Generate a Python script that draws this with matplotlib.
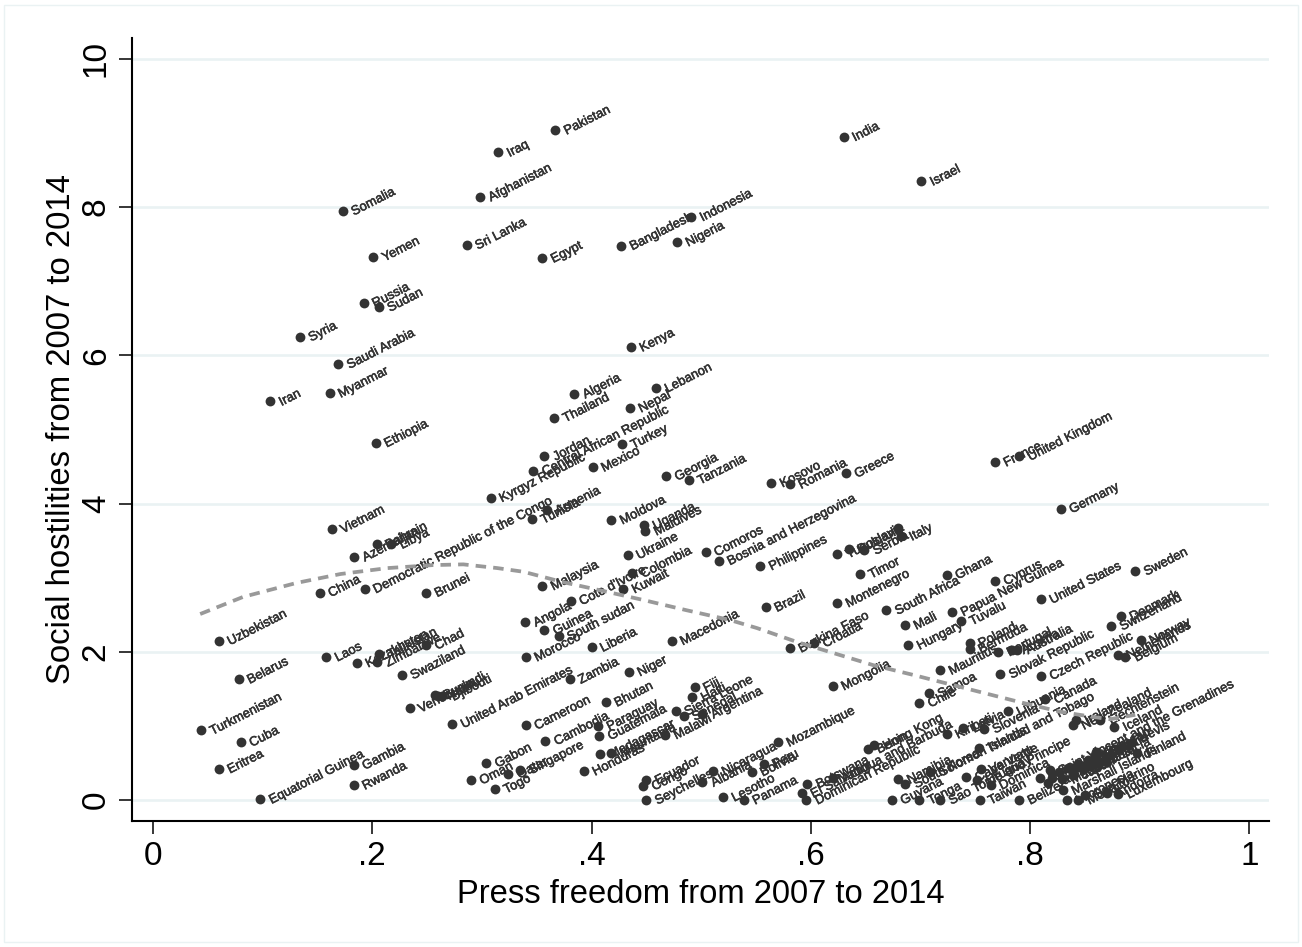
import matplotlib
matplotlib.use("Agg")
import matplotlib.pyplot as plt
import matplotlib.patheffects as pe
from matplotlib.patches import Rectangle

plt.rcParams['font.family'] = ['Liberation Sans', 'DejaVu Sans']

# upper part of the chart
names_high = ["Iraq", "Pakistan", "India", "Israel", "Somalia", "Afghanistan", "Indonesia", "Bangladesh",
              "Sri Lanka", "Egypt", "Nigeria", "Yemen", "Russia", "Sudan", "Syria", "Saudi Arabia", "Kenya",
              "Iran", "Myanmar", "Algeria", "Lebanon", "Nepal", "Thailand", "Ethiopia", "Jordan",
              "Central African Republic", "Turkey", "Mexico", "Georgia", "Tanzania", "France", "United Kingdom",
              "Kosovo", "Romania", "Greece", "Germany", "Kyrgyz Republic", "Armenia", "Tunisia", "Moldova",
              "Uganda", "Maldives", "Vietnam", "Azerbaijan", "Bahrain", "Libya"]
press_high = [.315, .367, .630, .701, .173, .298, .491, .427,
              .286, .355, .478, .201, .192, .206, .134, .169, .436,
              .107, .161, .384, .459, .435, .366, .203, .357,
              .347, .428, .401, .468, .489, .768, .790,
              .564, .581, .632, .828, .308, .359, .346, .418,
              .448, .449, .163, .183, .204, .217]
social_high = [8.74, 9.04, 8.95, 8.35, 7.95, 8.14, 7.87, 7.48,
               7.49, 7.31, 7.53, 7.33, 6.71, 6.65, 6.25, 5.88, 6.11,
               5.38, 5.49, 5.48, 5.56, 5.29, 5.16, 4.82, 4.64,
               4.44, 4.80, 4.49, 4.37, 4.32, 4.56, 4.64,
               4.28, 4.26, 4.41, 3.93, 4.08, 3.91, 3.79, 3.78,
               3.71, 3.63, 3.66, 3.28, 3.45, 3.45]

# middle band, social hostilities around 2 to 3.5
names_mid = ["Comoros", "Bosnia and Herzegovina", "Philippines", "Ukraine", "Colombia", "Cote d'Ivoire", "Kuwait",
             "Malaysia", "Angola", "Guinea", "South sudan", "Morocco", "Liberia", "Macedonia", "Brazil",
             "Burkina Faso", "Croatia", "Yugoslavia", "Bulgaria", "Serbia", "", "Italy", "Timor", "Montenegro",
             "Tuvalu", "Papua New Guinea", "Ghana", "South Africa", "Mali", "Hungary", "Cyprus", "United States",
             "Sweden", "Denmark", "Switzerland", "Norway", "Netherlands", "Belgium", "Poland", "Bermuda",
             "Portugal", "Austria", "Australia", "Slovak Republic", "Czech Republic", "China",
             "Democratic Republic of the Congo", "Brunei", "Uzbekistan"]
press_mid = [.504, .516, .554, .433, .437, .381, .429,
             .355, .339, .357, .370, .340, .400, .473, .559,
             .581, .603, .624, .635, .649, .680, .682, .645, .624,
             .737, .729, .724, .669, .686, .689, .768, .810,
             .896, .883, .874, .901, .880, .887, .745, .745,
             .771, .784, .788, .773, .810, .152,
             .193, .249, .060]
social_mid = [3.35, 3.23, 3.16, 3.31, 3.06, 2.69, 2.85,
              2.89, 2.40, 2.29, 2.21, 1.93, 2.06, 2.15, 2.60,
              2.05, 2.12, 3.32, 3.39, 3.37, 3.67, 3.56, 3.05, 2.66,
              2.42, 2.54, 3.04, 2.56, 2.36, 2.09, 2.96, 2.71,
              3.09, 2.48, 2.35, 2.16, 1.96, 1.93, 2.12, 2.04,
              2.00, 2.03, 2.03, 1.70, 1.68, 2.80,
              2.85, 2.80, 2.15]

# lower left
names_left = ["Laos", "Kazakhstan", "Zimbabwe", "Tajikistan", "Chad", "Swaziland", "Venezuela", "Burundi", "Nauru",
              "Djibouti", "Turkmenistan", "Belarus", "Cuba", "Eritrea", "Equatorial Guinea", "Gambia", "Rwanda",
              "United Arab Emirates", "Gabon", "Oman", "Togo", "Qatar", "Singapore", "Cameroon", "Cambodia",
              "Zambia", "Niger", "Bhutan", "Paraguay", "Guatemala", "Honduras", "Madagascar", "Mauritania",
              "Malawi", "Sierra Leone", "Senegal", "Argentina", "Fiji", "Haiti", "Mozambique", "Mongolia"]
press_left = [.158, .186, .204, .206, .249, .227, .234, .257, .260,
              .264, .044, .078, .080, .060, .098, .183, .183,
              .273, .304, .290, .312, .324, .335, .340, .358,
              .380, .434, .413, .406, .407, .393, .408, .418,
              .467, .477, .484, .501, .494, .492, .570, .620]
social_left = [1.93, 1.85, 1.86, 1.97, 2.09, 1.69, 1.24, 1.42, 1.41,
               1.40, .94, 1.63, .78, .42, .01, .47, .20,
               1.03, .50, .27, .15, .35, .41, 1.01, .80,
               1.63, 1.73, 1.32, 1.00, .87, .39, .62, .64,
               .88, 1.20, 1.13, 1.16, 1.52, 1.39, .78, 1.54]

# lower right
names_low = ["Ecuador", "Congo", "Seychelles", "Nicaragua", "Albania", "Lesotho", "Panama", "Peru", "Bolivia",
             "Botswana", "El Salvador", "Dominican Republic", "Antigua and Barbuda", "Hong Kong", "Benin",
             "Namibia", "South Korea", "Guyana", "Tonga", "Sao Tome and Principe", "Chile", "Samoa", "Mauritius",
             "Kiribati", "Latvia", "Slovenia", "Lithuania", "Canada", "Trinidad and Tobago", "Solomon Islands",
             "New Zealand", "Ireland", "Liechtenstein", "Iceland", "Saint Vincent and the Grenadines",
             "Saint Kitts and Nevis", "Finland", "Luxembourg", "Andorra", "San Marino", "Marshall Islands",
             "Monaco", "Micronesia", "Taiwan", "Belize", "Dominica", "Vanuatu", "Uruguay", "Cape Verde",
             "Jamaica", "Barbados", "Estonia", "Costa Rica", "Japan", "Grenada", "Bahamas", "Saint Lucia",
             "Malta", "Palau", "Macao", "Suriname", "Aruba", "Curacao"]
press_low = [.450, .447, .450, .511, .501, .520, .539, .557, .546,
             .597, .592, .596, .620, .658, .652,
             .680, .686, .674, .699, .718, .699, .708, .718,
             .724, .739, .758, .780, .814, .753, .709,
             .839, .842, .864, .877, .818,
             .820, .898, .880, .870, .850, .830,
             .844, .834, .754, .790, .764, .755, .752, .742,
             .816, .826, .850, .835, .839, .841, .844, .848,
             .859, .809, .829, .853, .855, .860]
social_low = [.27, .19, .00, .39, .24, .04, .00, .49, .38,
              .22, .09, .00, .30, .74, .69,
              .28, .22, .00, .00, .00, 1.31, 1.44, 1.75,
              .89, .97, .96, 1.20, 1.36, .70, .38,
              1.01, 1.08, 1.08, .99, .40,
              .30, .63, .08, .09, .07, .13,
              .00, .00, .00, .00, .20, .42, .27, .31,
              .23, .38, .46, .43, .34, .43, .49, .42,
              .61, .30, .28, .54, .48, .65]

# dashed fit line
fit_x = [.043, .082, .131, .171, .214, .255, .283, .314, .338, .374, .411, .447,
         .487, .526, .551, .588, .657, .693, .730, .791, .828, .858, .873, .896]
fit_y = [2.51, 2.74, 2.93, 3.05, 3.13, 3.17, 3.18, 3.13, 3.08, 2.94, 2.82, 2.70,
         2.56, 2.43, 2.32, 2.13, 1.82, 1.69, 1.55, 1.32, 1.19, 1.12, 1.09, 1.15]

x_ticks = [0, .2, .4, .6, .8, 1]
x_ticklabels = ["0", ".2", ".4", ".6", ".8", "1"]
y_ticks = [0, 2, 4, 6, 8, 10]

names = names_high + names_mid + names_left + names_low
press = press_high + press_mid + press_left + press_low
social = social_high + social_mid + social_left + social_low

W, H = 1302, 947
fig = plt.figure(figsize=(W / 100, H / 100), dpi=100, facecolor="white")
# pale outer frame of the graph region
fig.add_artist(Rectangle((4 / W, 1 - 942 / H), 1294 / W, 937 / H, transform=fig.transFigure,
                         fill=False, edgecolor="#eaf2f3", linewidth=1))

ax = fig.add_axes([132 / W, 1 - 821 / H, (1269 - 132) / W, (821 - 38) / H])
ax.set_xlim(-.0192, 1.018)
ax.set_ylim(-.283, 10.283)

ax.spines["top"].set_visible(False)
ax.spines["right"].set_visible(False)
ax.spines["left"].set_linewidth(1.5)
ax.spines["bottom"].set_linewidth(1.5)

ax.set_yticks(y_ticks)
ax.set_xticks(x_ticks)
ax.set_xticklabels(x_ticklabels)
ax.tick_params(axis="both", length=9.5, width=1.1, labelsize=24, pad=5)
ax.tick_params(axis="y", labelrotation=90)
for t in ax.get_yticklabels():
    t.set_va("center")
ax.grid(axis="y", color="#eaf2f3", linewidth=1.9, zorder=0)
ax.set_axisbelow(True)

ax.scatter(press, social, s=50, color="#333333", linewidths=0, zorder=3, clip_on=False)
thick = [pe.withStroke(linewidth=0.4, foreground="#333333")]
for n, x, y in zip(names, press, social):
    ax.annotate(n, (x, y), xytext=(7, -1.5), textcoords="offset points", fontsize=9.4, color="#333333",
                rotation=27, rotation_mode="anchor", ha="left", va="center", zorder=4, path_effects=thick)

ax.plot(fit_x, fit_y, color="#999999", linewidth=2.7, dashes=(2.8, 1.9), zorder=5)

ax.set_xlabel("Press freedom from 2007 to 2014", fontsize=23.6, labelpad=5)
ax.set_ylabel("Social hostilities from 2007 to 2014", fontsize=23.7, labelpad=3)

fig.savefig("out.png", dpi=100)
